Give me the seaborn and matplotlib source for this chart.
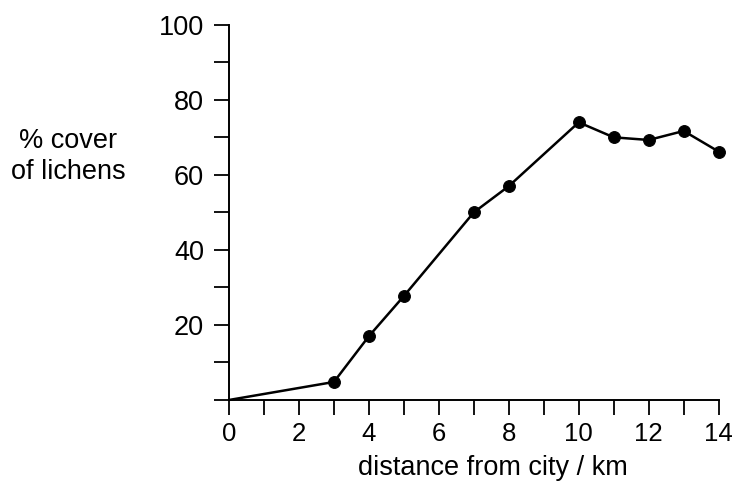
import numpy as np
import pandas as pd
import matplotlib
matplotlib.use("Agg")
import matplotlib.pyplot as plt
import seaborn as sns

# values
distance_km = [0, 3, 4, 5, 7, 8, 10, 11, 12, 13, 14]
lichen_cover = [0, 4.8, 17, 27.7, 50, 57, 74, 70, 69.3, 71.7, 66.2]

x_ticks = list(range(0, 15))
x_labels = [str(v) if v % 2 == 0 else "" for v in x_ticks]
y_ticks = list(range(0, 101, 10))
y_labels = [str(v) if (v % 20 == 0 and v > 0) else "" for v in y_ticks]

sns.set_style("ticks")
plt.rcParams["font.family"] = ["Liberation Sans", "DejaVu Sans"]
plt.rcParams["text.color"] = "black"
plt.rcParams["xtick.color"] = "black"
plt.rcParams["ytick.color"] = "black"
plt.rcParams["axes.labelcolor"] = "black"

df = pd.DataFrame({"distance": distance_km, "cover": lichen_cover})

fig = plt.figure(figsize=(7.32, 4.86), dpi=100)
ax = fig.add_axes([0.3128, 0.177, 0.669, 0.772])

sns.lineplot(data=df, x="distance", y="cover", ax=ax, color="black",
             linewidth=1.8, marker="o", markersize=8.5, markeredgecolor="black",
             markevery=list(range(1, len(df))), clip_on=False)

ax.set_xlim(0, 14)
ax.set_ylim(0, 100)
ax.set_xticks(x_ticks)
ax.set_xticklabels(x_labels)
ax.set_yticks(y_ticks)
ax.set_yticklabels(y_labels)
ax.tick_params(axis="both", direction="out", length=11, width=1.3, color="black")
ax.tick_params(axis="y", labelsize=19.5, pad=7)
ax.tick_params(axis="x", labelsize=18.5, pad=5)
ax.set_xlabel("distance from city / km", fontsize=19.5, labelpad=6)
ax.xaxis.label.set_x(0.539)
ax.set_ylabel("")

sns.despine(ax=ax)
for side in ["left", "bottom"]:
    ax.spines[side].set_linewidth(1.4)
    ax.spines[side].set_color("black")

fig.text(0.093, 0.677, "% cover\nof lichens", ha="center", va="center",
         fontsize=19.5, linespacing=1.25)

fig.savefig("out.png", dpi=100)
